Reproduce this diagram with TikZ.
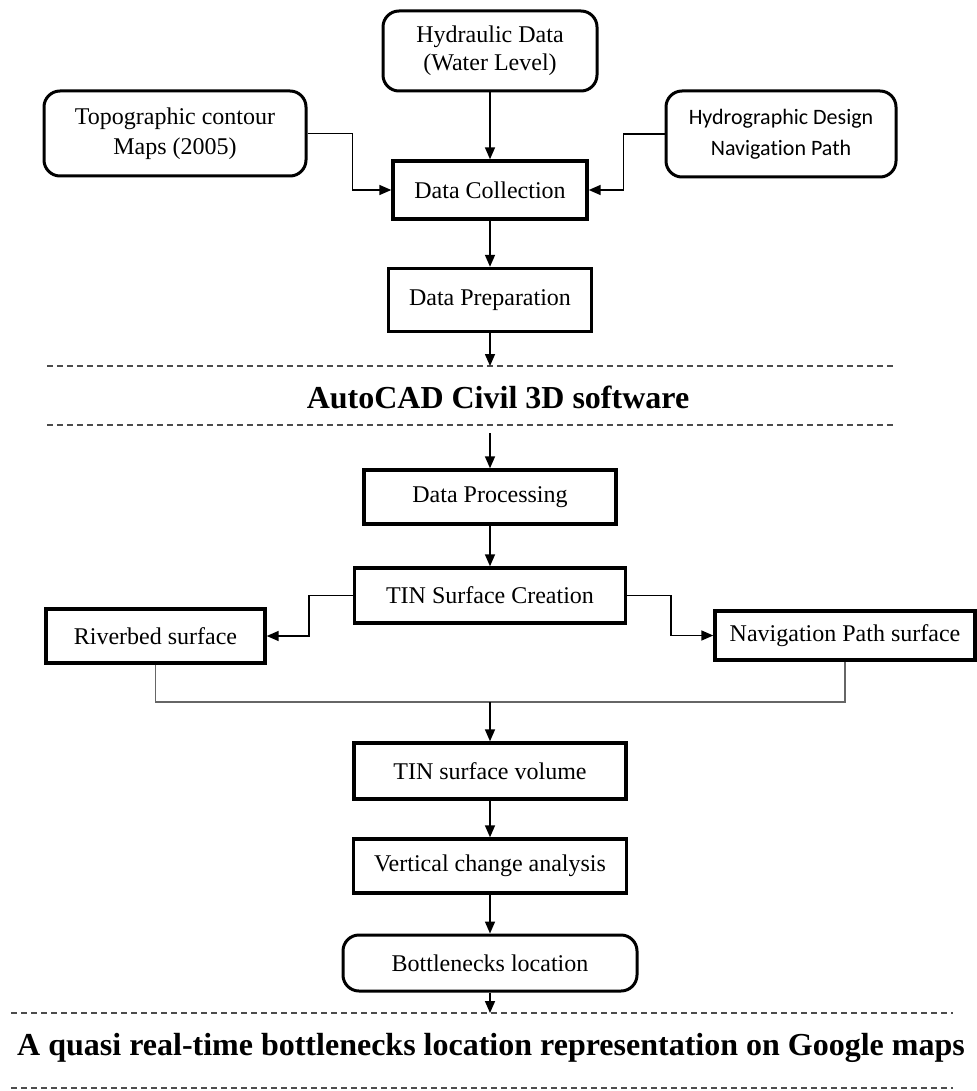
\documentclass[tikz,border=0pt]{standalone}
\usepackage{fontspec}
\setmainfont{Liberation Serif}
\newfontfamily\calibrifont[Ligatures=NoCommon]{Carlito}
\usetikzlibrary{arrows.meta, calc, positioning}

\begin{document}
\begin{tikzpicture}[x=0.5pt, y=-0.5pt,
    font=\fontsize{12}{14}\selectfont,
    box/.style={draw, line width=1.7pt, align=center, inner sep=0pt},
    rbox/.style={box, rounded corners=8pt, line width=1.5pt},
    arr/.style={-{Triangle[length=6pt, width=5pt]}, line width=0.8pt},
    merge/.style={line width=0.8pt, black!60},
    cut/.style={dash pattern=on 3pt off 2pt, line width=0.8pt, black!70},
    title/.style={font=\fontsize{16}{19}\selectfont\bfseries, anchor=base}]
    \useasboundingbox (0,0) rectangle (977,1091);

    % 输入数据
    \node[rbox, minimum width=107pt, minimum height=40pt] (hyd) at (490,51) {Hydraulic Data\\(Water Level)};
    \node[rbox, minimum width=131pt, minimum height=42.5pt, font=\fontsize{12}{15}\selectfont] (topo) at (175,133.5) {Topographic contour\\Maps (2005)};
    \node[rbox, minimum width=115pt, minimum height=43pt, font=\fontsize{11}{15.5}\calibrifont] (hydro) at (781,134) {Hydrographic Design\\Navigation Path};

    % 数据收集与准备
    \node[box, minimum width=97pt, minimum height=29pt] (coll) at (490,190) {Data Collection};
    \node[box, minimum width=101.5pt, minimum height=31.5pt] (prep) at (490,300) {Data Preparation};

    \draw[arr] (hyd) -- (coll);
    \draw[arr] (topo.east) -- ++(45,0) |- (coll.west);
    \draw[arr] (hydro.west) -- ++(-41,0) |- (coll.east);
    \draw[arr] (coll) -- (prep);

    % 软件部分
    \coordinate (cutA) at (490,366);
    \coordinate (cutB) at (490,433);
    \draw[cut] (47,366) -- (894,366);
    \draw[cut] (47,425) -- (894,425);
    \node[title] (soft) at (498,408) {AutoCAD Civil 3D software};
    \draw[arr] (prep) -- (cutA);

    \node[box, minimum width=126pt, minimum height=27pt] (proc) at (490,497) {Data Processing};
    \node[box, minimum width=135.5pt, minimum height=27.5pt] (tin) at (490,595.5) {TIN Surface Creation};
    \node[box, minimum width=109.5pt, minimum height=27pt] (river) at (155.5,636) {Riverbed surface};
    \node[box, minimum width=130pt, minimum height=24.5pt] (nav) at (845,635.5) {Navigation Path surface};

    \draw[arr] (cutB) -- (proc);
    \draw[arr] (proc) -- (tin);
    \draw[arr] (tin.west) -- ++(-44,0) |- (river.east);
    \draw[arr] (tin.east) -- ++(44,0) |- (nav.west);

    % 两个曲面汇合
    \coordinate (join) at (490,702);
    \draw[merge] (river.south) |- (join) -| (nav.south);

    \node[box, minimum width=136pt, minimum height=28pt] (vol) at (490,771) {TIN surface volume};
    \node[box, minimum width=136.5pt, minimum height=27pt] (vert) at (490,866) {Vertical change analysis};
    \node[rbox, minimum width=147pt, minimum height=28pt] (bott) at (490,963) {Bottlenecks location};

    \draw[arr] (join) -- (vol);
    \draw[arr] (vol) -- (vert);
    \draw[arr] (vert) -- (bott);

    % 结果展示
    \coordinate (cutC) at (490,1013);
    \draw[cut] (11,1013) -- (953,1013);
    \draw[cut] (11,1088) -- (953,1088);
    \node[title] (maps) at (491,1055) {A quasi real-time bottlenecks location representation on Google maps};
    \draw[arr] (bott) -- (cutC);
\end{tikzpicture}
\end{document}
